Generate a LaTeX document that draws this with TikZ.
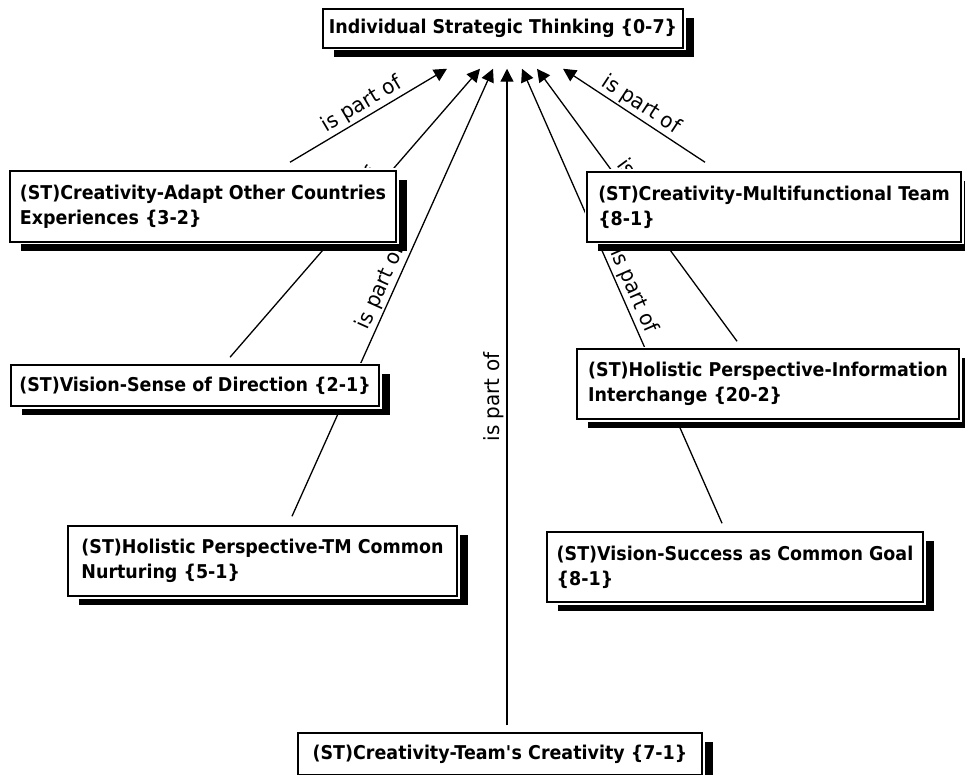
\documentclass[tikz,border=0pt]{standalone}
\usepackage{fontspec}
\setmainfont{DejaVu Sans}
\newfontfamily\conceptfont{DejaVu Sans}[FakeStretch=0.92]
\newfontfamily\relationfont{DejaVu Sans}[FakeStretch=0.95]
\usetikzlibrary{arrows.meta,shadows}
\pgfdeclarelayer{background}
\pgfsetlayers{background,main}
\begin{document}
\begin{tikzpicture}[x=1pt,y=-1pt,
  concept/.style={draw=black, line width=1.5pt, fill=white,
    inner xsep=2pt, inner ysep=2pt, align=left,
    font=\conceptfont\fontsize{19}{25}\selectfont\bfseries,
    drop shadow={shadow xshift=11pt, shadow yshift=-9pt, opacity=1, fill=black},
    preaction={draw=white, line width=5pt}},
  link/.style={line width=1.3pt, -{Triangle[length=13pt,width=13pt]}},
  linklabel/.style={midway, sloped, above, inner sep=2pt,
    font=\relationfont\fontsize{21}{24}\selectfont}]
\useasboundingbox (0,0) rectangle (965,775);

% concepts
\node[concept, minimum width=360pt, minimum height=39pt] (top) at (503,28.5)
  {Individual Strategic Thinking \{0-7\}};
\node[concept, minimum width=386pt, minimum height=71pt] (adapt) at (203,206.5)
  {(ST)Creativity-Adapt Other Countries\\Experiences \{3-2\}};
\node[concept, minimum width=374pt, minimum height=70pt] (multi) at (774,207)
  {(ST)Creativity-Multifunctional Team\\\{8-1\}};
\node[concept, minimum width=368pt, minimum height=41pt] (sense) at (195,385.5)
  {(ST)Vision-Sense of Direction \{2-1\}};
\node[concept, minimum width=382pt, minimum height=70pt] (info) at (768,384)
  {(ST)Holistic Perspective-Information\\Interchange \{20-2\}};
\node[concept, minimum width=389pt, minimum height=70pt] (tm) at (262.5,561)
  {(ST)Holistic Perspective-TM Common\\Nurturing \{5-1\}};
\node[concept, minimum width=376pt, minimum height=70pt] (vision) at (735,567)
  {(ST)Vision-Success as Common Goal\\\{8-1\}};
\node[concept, minimum width=404pt, minimum height=42pt] (team) at (500,754)
  {(ST)Creativity-Team\textquotesingle s Creativity \{7-1\}};

% relations
\begin{pgfonlayer}{background}
\draw[link] ([xshift=87pt,yshift=8pt]adapt.north) -- ([xshift=-56pt,yshift=-20pt]top.south)
  node[linklabel]{is part of};
\draw[link] ([xshift=35pt,yshift=7pt]sense.north) -- ([xshift=-23pt,yshift=-20pt]top.south)
  node[linklabel]{is part of};
\draw[link] ([xshift=29.5pt,yshift=9pt]tm.north) -- ([xshift=-10pt,yshift=-20pt]top.south)
  node[linklabel]{is part of};
\draw[link] ([xshift=7pt,yshift=7pt]team.north) -- ([xshift=4pt,yshift=-20pt]top.south)
  node[linklabel]{is part of};
\draw[link] ([xshift=-13pt,yshift=8pt]vision.north) -- ([xshift=19pt,yshift=-20pt]top.south)
  node[linklabel]{is part of};
\draw[link] ([xshift=-31pt,yshift=7pt]info.north) -- ([xshift=34pt,yshift=-20pt]top.south)
  node[linklabel]{is part of};
\draw[link] ([xshift=-69pt,yshift=9pt]multi.north) -- ([xshift=60pt,yshift=-20pt]top.south)
  node[linklabel]{is part of};
\end{pgfonlayer}
\end{tikzpicture}
\end{document}
